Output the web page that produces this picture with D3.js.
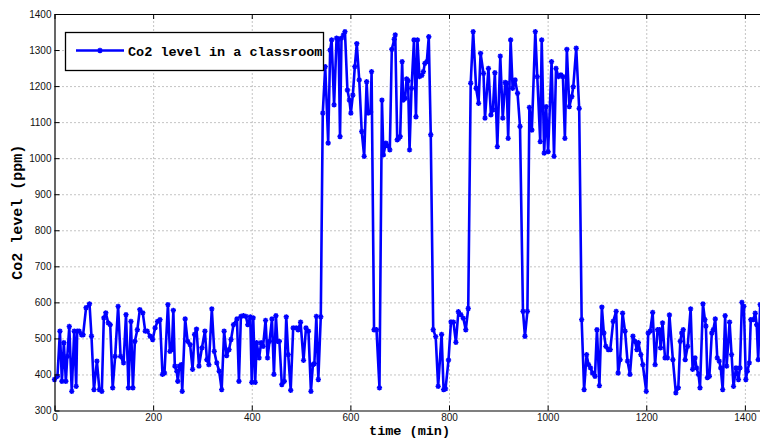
<!DOCTYPE html>
<html><head><meta charset="utf-8">
<script src="https://cdn.jsdelivr.net/npm/d3@7"></script>
<style>html,body{margin:0;padding:0;background:#fff;overflow:hidden}</style>
</head><body><svg id="chart" width="760" height="439"></svg>
<script>
// time of each reading (minutes) and CO2 level (ppm)
const timesMin = [
  0,6,11,15,19,23,26,30,35,40,44,46,50,55,58,64,71,75,80,86,91,96,100,104,109,113,118,123,129,134,140,145,150,155,159,163,168,173,179,184,188,194,199,204,209,214,
  219,223,230,234,238,241,244,248,250,253,257,259,265,270,275,280,284,288,293,299,305,309,313,319,324,329,334,339,344,349,354,358,363,370,374,378,383,388,392,397,400,403,407,410,415,419,423,
  428,432,436,441,445,449,452,456,461,466,470,474,479,484,490,494,499,505,510,515,520,524,527,531,535,540,
  544,549,555,559,562,567,572,576,579,582,586,589,594,598,601,605,609,613,618,623,628,633,636,641,643,648,653,659,664,667,672,675,680,684,689,691,695,698,701,705,707,711,714,717,720,724,729,733,736,740,745,748,751,755,759,763,768,773,778,
  785,789,793,799,804,809,814,819,824,829,834,839,
  844,849,855,860,864,870,873,880,885,889,893,898,904,909,914,917,920,925,929,934,939,944,950,954,959,963,968,975,979,985,988,993,997,1001,1008,1013,1017,1022,1027,1031,1035,1039,1044,1049,1052,1058,1064,1069,1074,1079,
  1083,1087,1091,1096,1100,1105,1110,1114,1118,1123,1127,1133,1139,1143,1147,1152,1157,1162,1167,1173,1177,1181,1184,1189,1193,1200,1204,1208,1213,1218,1223,1227,1229,1233,1238,1243,1247,1254,1260,1265,1269,1272,1275,1279,1284,1290,1294,1299,1302,1306,1309,1315,1319,1321,1324,1328,1333,1336,1340,1344,1348,1351,1355,1360,1363,1369,1373,1377,1382,1387,1390,1394,1398,1402,1405,1409,1412,1417,1421,1424,1427,1431
];
const co2ppm = [
  386,395,520,381,488,381,450,533,353,520,367,520,520,510,510,585,596,506,358,437,358,353,557,571,543,538,363,450,589,450,432,566,363,547,363,492,524,580,571,520,520,506,497,529,547,552,
  400,404,594,464,469,578,423,409,381,423,427,353,554,492,483,414,511,526,423,474,520,441,427,582,464,432,409,358,520,452,469,497,538,554,381,561,563,561,538,560,378,557,378,488,446,488,478,
  550,446,492,554,400,563,492,492,372,381,560,455,356,529,529,524,545,439,529,520,353,427,430,561,386,560,
  1125,1254,1042,1300,1328,1148,1333,1330,1060,1333,1342,1351,1189,1161,1125,1175,1254,1318,1217,1074,1005,1212,1125,1128,1240,524,524,363,1161,1009,1042,1035,1023,1302,1330,1342,1051,1055,1060,1268,1161,1166,1220,1215,1023,1194,1328,1115,1328,1226,1230,1240,1263,1268,1337,1065,524,505,367,
  511,358,360,440,546,545,489,574,566,556,524,583,
  1208,1351,1194,1152,1291,1235,1111,1249,1120,1134,1237,1032,1283,1111,1210,1208,1055,1328,1194,1217,1180,1088,575,506,575,1141,1078,1351,1226,1046,1328,1014,1143,1018,1268,1005,1249,1226,1231,1226,1055,1302,1143,1171,1198,1305,1138,552,358,455,
  427,418,404,395,524,369,587,515,478,469,469,547,575,404,441,570,520,437,400,506,492,469,488,455,427,353,515,520,572,427,524,524,474,543,446,446,565,441,349,363,492,515,524,441,478,582,414,446,418,400,363,596,552,534,391,395,515,524,554,446,437,418,358,563,423,545,455,367,418,386,418,600,589,386,409,432,552,552,570,538,441,594
];
const xTicks = [0,200,400,600,800,1000,1200,1400];
const yTicks = [300,400,500,600,700,800,900,1000,1100,1200,1300,1400];
const seriesName = "Co2 level in a classroom";
const xTitle = "time (min)";
const yTitle = "Co2 level (ppm)";

const svg = d3.select("#chart");
const L = 54.5, T = 14, B = 410.5, R = 764.6;
const x = d3.scaleLinear().domain([0, 1440]).range([L, R]);
const y = d3.scaleLinear().domain([300, 1400]).range([B, T]);
const tickFont = "'Liberation Sans', Arial, sans-serif";
const monoFont = "'Liberation Mono', 'Courier New', monospace";
const fmt = d3.format("d");

// grid
svg.append("g").attr("transform", `translate(0,${B})`)
  .call(d3.axisBottom(x).tickValues(xTicks.filter(d => d > 0)).tickSize(-(B - T)).tickFormat(""))
  .call(g => g.select(".domain").remove())
  .selectAll("line").attr("stroke", "#888").attr("stroke-dasharray", "1,3");
svg.append("g").attr("transform", `translate(${L},0)`)
  .call(d3.axisLeft(y).tickValues(yTicks.filter(d => d > 300 && d < 1400)).tickSize(-(R - L)).tickFormat(""))
  .call(g => g.select(".domain").remove())
  .selectAll("line").attr("stroke", "#888").attr("stroke-dasharray", "1,3");

// data
const data = timesMin.map((t, i) => ({ t, v: co2ppm[i] }));
const star = {
  draw(ctx, size) {
    const r = Math.sqrt(size) / 2, d = r * 0.72;
    ctx.moveTo(-r, 0); ctx.lineTo(r, 0);
    ctx.moveTo(0, -r); ctx.lineTo(0, r);
    ctx.moveTo(-d, -d); ctx.lineTo(d, d);
    ctx.moveTo(-d, d); ctx.lineTo(d, -d);
  }
};
svg.append("path").datum(data)
  .attr("d", d3.line().x(d => x(d.t)).y(d => y(d.v)))
  .attr("fill", "none").attr("stroke", "#0000ff").attr("stroke-width", 2.6)
  .attr("stroke-linejoin", "round");
svg.append("g").selectAll("path").data(data).join("path")
  .attr("transform", d => `translate(${x(d.t)},${y(d.v)})`)
  .attr("d", d3.symbol(star, 28))
  .attr("fill", "none").attr("stroke", "#0000ff").attr("stroke-width", 1.4);

// axes (inward ticks, MATLAB style)
const styleAxis = g => {
  g.select(".domain").attr("stroke", "#000").attr("stroke-width", 1.2);
  g.selectAll(".tick line").attr("stroke", "#000");
  g.selectAll("text").attr("font-family", tickFont).attr("font-size", 10).attr("fill", "#111");
};
svg.append("g").attr("transform", `translate(0,${B})`)
  .call(d3.axisBottom(x).tickValues(xTicks).tickFormat(fmt).tickSize(-5).tickSizeOuter(0).tickPadding(3))
  .call(styleAxis);
svg.append("g").attr("transform", `translate(0,${T})`)
  .call(d3.axisTop(x).tickValues(xTicks).tickSize(-5).tickSizeOuter(0).tickFormat(""))
  .call(styleAxis);
svg.append("g").attr("transform", `translate(${L},0)`)
  .call(d3.axisLeft(y).tickValues(yTicks).tickFormat(fmt).tickSize(-5).tickSizeOuter(0).tickPadding(3))
  .call(styleAxis);

// axis titles
svg.append("text").attr("x", (L + R) / 2).attr("y", 434.5).attr("text-anchor", "middle")
  .attr("font-family", monoFont).attr("font-weight", "bold").attr("font-size", 13.5).text(xTitle);
svg.append("text").attr("transform", `translate(22,${(T + B) / 2}) rotate(-90)`).attr("text-anchor", "middle")
  .attr("font-family", monoFont).attr("font-weight", "bold").attr("font-size", 15).text(yTitle);

// legend
const lg = svg.append("g");
lg.append("rect").attr("x", 65.5).attr("y", 32.5).attr("width", 258).attr("height", 38)
  .attr("fill", "#fff").attr("stroke", "#000").attr("stroke-width", 1.3);
lg.append("line").attr("x1", 76).attr("x2", 124).attr("y1", 50.5).attr("y2", 50.5)
  .attr("stroke", "#0000ff").attr("stroke-width", 2.6);
lg.append("path").attr("transform", "translate(100,50.5)").attr("d", d3.symbol(star, 28))
  .attr("fill", "none").attr("stroke", "#0000ff").attr("stroke-width", 1.4);
lg.append("text").attr("x", 128).attr("y", 55.5)
  .attr("font-family", monoFont).attr("font-weight", "bold").attr("font-size", 13.5).text(seriesName);
</script>
</body></html>
